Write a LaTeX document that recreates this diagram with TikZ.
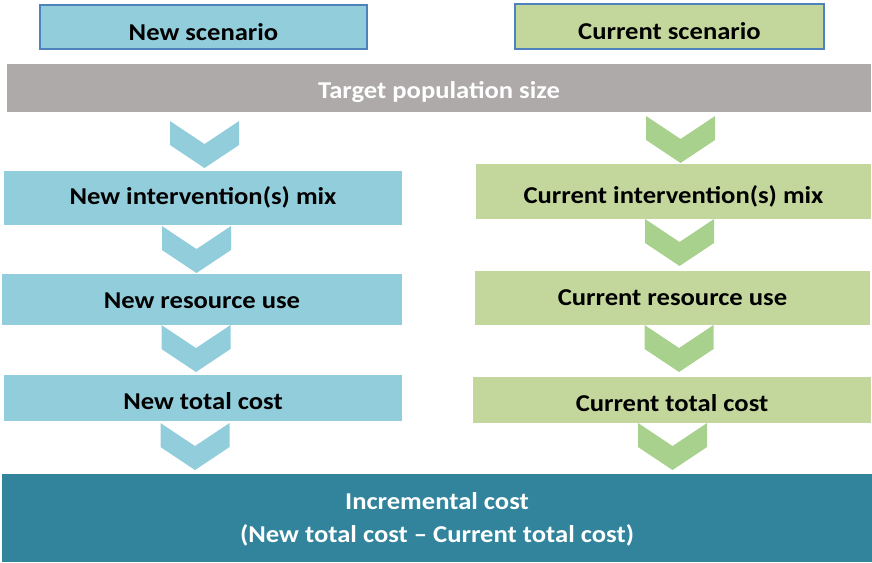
\documentclass[tikz,border=0pt]{standalone}
\usepackage{fontspec}
\setmainfont{Carlito}[FakeStretch=1.1]
\definecolor{lblue}{HTML}{92CDDC}
\definecolor{lgreen}{HTML}{C3D69B}
\definecolor{cgreen}{HTML}{A9D18E}
\definecolor{bgrey}{HTML}{AEAAAA}
\definecolor{teal}{HTML}{31849B}
\definecolor{bordb}{HTML}{4F81BD}
\tikzset{
  box/.style={inner sep=0pt, outer sep=0pt, align=center, font=\fontsize{24.2}{27}\selectfont\bfseries, text=black, text height=15.3pt, text depth=0pt},
  newbox/.style={box, fill=lblue},
  curbox/.style={box, fill=lgreen},
  scen/.style={draw=bordb, line width=1.5pt},
  chev/.pic={\fill[pic actions] (-34.5,0) -- (0,23) -- (34.5,0) -- (34.5,24) -- (0,47) -- (-34.5,24) -- cycle;}
}
\begin{document}
\begin{tikzpicture}[x=1pt,y=-1pt]
\useasboundingbox (0,0) rectangle (872,562);
% scenario headers
\node[newbox, scen, minimum width=327pt, minimum height=44pt, text height=26.3pt] (ns) at (203.5,27) {New scenario};
\node[curbox, scen, minimum width=309pt, minimum height=45pt, text height=25.3pt] (cs) at (669.5,26.5) {Current scenario};
% target population
\node[box, fill=bgrey, text=white, minimum width=864pt, minimum height=48pt, text height=21.3pt] (tp) at (439,88) {Target population size};
% left column
\node[newbox, minimum width=398pt, minimum height=54pt, text depth=3pt] (l1) at (203,198) {New intervention(s) mix};
\node[newbox, minimum width=400pt, minimum height=51pt, text height=18.3pt] (l2) at (202,299.5) {New resource use};
\node[newbox, minimum width=398pt, minimum height=46pt, text height=22.3pt] (l3) at (203,398) {New total cost};
% right column
\node[curbox, minimum width=395pt, minimum height=55pt, text height=23.3pt] (r1) at (673.5,191.5) {Current intervention(s) mix};
\node[curbox, minimum width=395pt, minimum height=54pt] (r2) at (672.5,298) {Current resource use};
\node[curbox, minimum width=398pt, minimum height=46pt, text height=23.3pt] (r3) at (672,400) {Current total cost};
% bottom
\node[box, fill=teal, text=white, minimum width=870pt, minimum height=88pt, text height=49pt,
      font=\fontsize{24.2}{32.6}\selectfont\bfseries] (inc) at (437,518)
  {Incremental cost\\(New total cost -- Current total cost)};
% chevrons left
\pic[fill=lblue] at (204.5,121) {chev};
\pic[fill=lblue] at (196.5,226) {chev};
\pic[fill=lblue] at (196,325) {chev};
\pic[fill=lblue] at (195,423) {chev};
% chevrons right
\pic[fill=cgreen] at (680.5,116) {chev};
\pic[fill=cgreen] at (679.5,219) {chev};
\pic[fill=cgreen] at (679,325) {chev};
\pic[fill=cgreen] at (672.5,423) {chev};
\end{tikzpicture}
\end{document}
